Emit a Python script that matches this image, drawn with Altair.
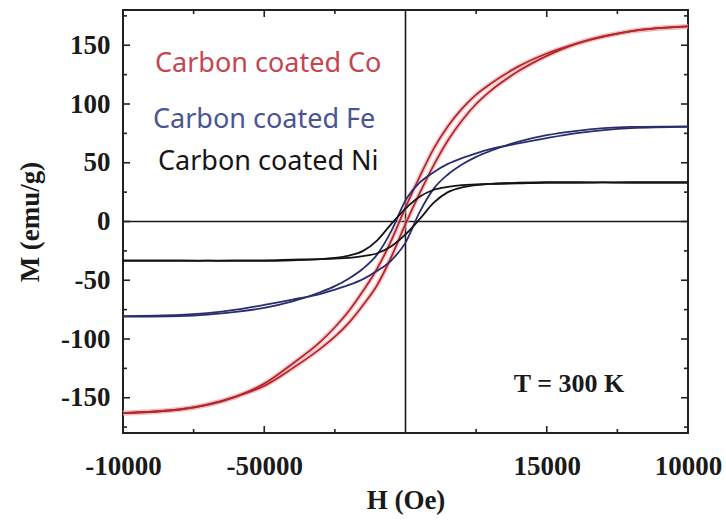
import altair as alt
import pandas as pd

# Applied field H (Oe) at which magnetization was sampled
H_FIELD = [-10000, -8000, -6000, -5000, -4000, -3000, -2500, -2000, -1500, -1000, -500, 0,
           500, 1000, 1500, 2000, 2500, 3000, 4000, 5000, 6000, 8000, 10000]

# Magnetization M (emu/g): descending ("upper") and ascending ("lower") branches
CO_UPPER = [-163, -160, -149, -138, -121, -102, -90, -76, -59, -40, -16, 12,
            38, 62, 81, 96, 108, 117, 132, 143, 151, 162, 166]
CO_LOWER = [-163, -160, -149, -140, -125, -108, -98, -86, -71, -54, -30, -2,
            24, 48, 69, 86, 100, 111, 128, 141, 151, 162, 166]
FE_UPPER = [-81, -80.5, -77, -73.5, -68, -60, -55, -48.5, -40, -28, -8, 18,
            33, 42, 49, 54, 58, 61.5, 66.5, 71, 75, 79.5, 80.5]
FE_LOWER = [-80.5, -79.5, -75, -71, -66.5, -61.5, -58, -54, -49, -42, -33, -18,
            8, 28, 40, 48.5, 55, 60, 68, 73.5, 77, 80.5, 81]
NI_UPPER = [-33, -33, -33.5, -33.5, -33, -32, -31, -29, -25, -16, -2, 11,
            21, 27, 29.5, 31, 31.5, 32, 32.5, 33, 33, 33.5, 33.5]
NI_LOWER = [-33.5, -33.5, -33, -33, -32.5, -32, -31.5, -31, -29.5, -27, -21, -11,
            2, 16, 25, 29, 31, 32, 33, 33.5, 33.5, 33, 33]

SAMPLES = ["Carbon coated Co", "Carbon coated Fe", "Carbon coated Ni"]
LINE_COLORS = ["#b3262c", "#2b2d6e", "#141414"]
TEXT_COLORS = ["#c4464e", "#4b5494", "#161616"]

# Axis ticks and their printed labels
X_TICK_VALUES = [-10000, -5000, 0, 5000, 10000]
X_TICK_LABELS = ["-10000", "-50000", "", "15000", "10000"]
X_MINOR = [-7500, -2500, 2500, 7500]
Y_TICK_VALUES = [-150, -100, -50, 0, 50, 100, 150]
Y_MINOR = [-175, -125, -75, -25, 25, 75, 125, 175]

W, H = 565, 423

branches = {
    SAMPLES[0]: (CO_UPPER, CO_LOWER),
    SAMPLES[1]: (FE_UPPER, FE_LOWER),
    SAMPLES[2]: (NI_UPPER, NI_LOWER),
}
rows = []
for name, (up, low) in branches.items():
    for b, vals in (("upper", up), ("lower", low)):
        for h, m in zip(H_FIELD, vals):
            rows.append({"sample": name, "branch": b, "H": h, "M": m})
curves = pd.DataFrame(rows)

xscale = alt.Scale(domain=[-10000, 10000], nice=False, zero=False)
yscale = alt.Scale(domain=[-180, 180], nice=False, zero=False)
color = alt.Color("sample:N", scale=alt.Scale(domain=SAMPLES, range=LINE_COLORS), legend=None)

label_map = "{" + ", ".join(f"'{v}': '{s}'" for v, s in zip(X_TICK_VALUES, X_TICK_LABELS)) + "}"

x_enc = alt.X(
    "H:Q", scale=xscale,
    axis=alt.Axis(
        title="H (Oe)", values=X_TICK_VALUES, labelExpr=f"{label_map}[''+datum.value]",
        labelPadding=20, labelFlush=False, labelOverlap=False,
        titleX=W / 2, titleY=67, titleBaseline="middle",
    ),
)
y_enc = alt.Y(
    "M:Q", scale=yscale,
    axis=alt.Axis(
        title="M (emu/g)", values=Y_TICK_VALUES, labelExpr="'' + datum.value",
        labelPadding=13, labelFlush=False, labelOverlap=False,
        titleX=-93, titleY=H / 2, titleAngle=270, titleAlign="center", titleBaseline="middle",
    ),
)

# soft halo under the Co loop
halo = alt.Chart(curves[curves["sample"] == SAMPLES[0]]).mark_line(
    interpolate="monotone", strokeWidth=5, color="#eaa9ad", opacity=0.55
).encode(x=x_enc, y=y_enc, detail="branch:N")

lines = alt.Chart(curves).mark_line(interpolate="monotone", strokeWidth=1.8).encode(
    x=x_enc, y=y_enc, color=color, detail=alt.Detail(["sample", "branch"])
)

zero_h = alt.Chart(pd.DataFrame({"M": [0]})).mark_rule(color="#1a1a1a", strokeWidth=1.6).encode(
    y=alt.Y("M:Q", scale=yscale)
)
zero_v = alt.Chart(pd.DataFrame({"H": [0]})).mark_rule(color="#1a1a1a", strokeWidth=1.6).encode(
    x=alt.X("H:Q", scale=xscale)
)


def y_ticks(values, length):
    d = pd.DataFrame({"M": values})
    left = alt.Chart(d).mark_rule(color="#222", strokeWidth=1.6).encode(
        y=alt.Y("M:Q", scale=yscale), x=alt.value(0), x2=alt.value(length))
    right = alt.Chart(d).mark_rule(color="#222", strokeWidth=1.6).encode(
        y=alt.Y("M:Q", scale=yscale), x=alt.value(W), x2=alt.value(W - length))
    return [left, right]


def x_ticks(values, length):
    d = pd.DataFrame({"H": values})
    bottom = alt.Chart(d).mark_rule(color="#222", strokeWidth=1.6).encode(
        x=alt.X("H:Q", scale=xscale), y=alt.value(H), y2=alt.value(H - length))
    top = alt.Chart(d).mark_rule(color="#222", strokeWidth=1.6).encode(
        x=alt.X("H:Q", scale=xscale), y=alt.value(0), y2=alt.value(length))
    return [bottom, top]


ticks = (y_ticks(Y_TICK_VALUES, 7) + y_ticks(Y_MINOR, 4)
         + x_ticks([-5000, 5000], 7) + x_ticks(X_MINOR, 4))

labels_df = pd.DataFrame({
    "text": SAMPLES, "px": [32, 30, 35], "py": [61.7, 118.3, 160], "c": TEXT_COLORS,
})
sample_labels = alt.Chart(labels_df).mark_text(
    font="Noto Sans", fontSize=27, align="left", baseline="alphabetic"
).encode(
    text="text:N", x=alt.X("px:Q", scale=None), y=alt.Y("py:Q", scale=None),
    color=alt.Color("c:N", scale=None),
)

temp_label = alt.Chart(pd.DataFrame({"t": ["T = 300 K"]})).mark_text(
    font="Liberation Serif", fontWeight="bold", fontSize=26, align="center",
    baseline="alphabetic", color="#1a1a1a"
).encode(text="t:N", x=alt.value(446), y=alt.value(381.5))

chart = alt.layer(
    zero_h, zero_v, halo, lines, *ticks, sample_labels, temp_label
).properties(
    width=W, height=H,
    autosize=alt.AutoSizeParams(type="none"),
    padding={"left": 123, "top": 10, "right": 38, "bottom": 89},
    background="white",
).configure_view(
    stroke="#222", strokeWidth=2
).configure_axis(
    grid=False, domain=False, ticks=False, tickSize=0,
    labelFont="Liberation Serif", labelFontWeight="bold", labelFontSize=27, labelColor="#1a1a1a",
    titleFont="Liberation Serif", titleFontWeight="bold", titleFontSize=27, titleColor="#1a1a1a",
)

chart.save("out.html", embed_options={"renderer": "svg", "actions": False})
